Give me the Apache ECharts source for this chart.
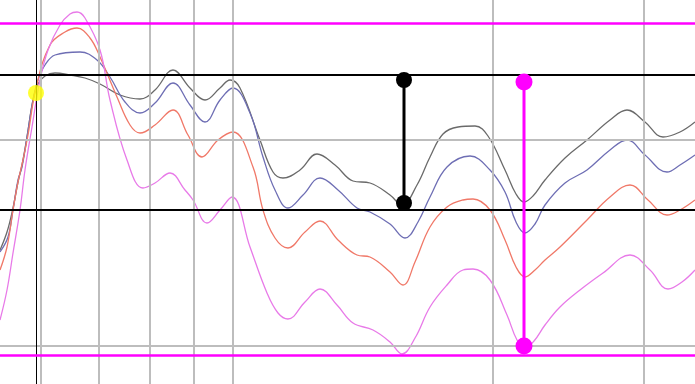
<!DOCTYPE html>
<html>
<head>
<meta charset="utf-8">
<script src="https://cdn.jsdelivr.net/npm/echarts@6/dist/echarts.min.js"></script>
<style>html,body{margin:0;padding:0;background:#fff}#c{width:695px;height:384px}</style>
</head>
<body>
<div id="c"></div>
<script>
// Curves: [x, y] (y grows downward)
const grayCurve = [[0,250],[7,232],[13,208],[18,182],[22,165],[27,137],[33,100],[38,84],[45,76],[55,73],[70,75],[85,78],[100,84],[120,95],[140,99],[155,90],[173,70],[190,88],[205,100],[220,88],[230,80],[240,88],[260,140],[273,172],[283,178],[300,170],[317,154],[335,165],[353,181],[370,183],[390,195],[402,205],[417,185],[430,157],[443,134],[458,127],[475,126],[488,136],[505,170],[516,194],[524,202],[533,196],[545,180],[565,158],[587,140],[610,120],[627,110],[645,122],[663,137],[680,132],[695,122]];
const blueCurve = [[0,252],[8,237],[13,210],[18,180],[22,167],[27,137],[33,100],[38,80],[45,65],[55,55],[80,52],[97,60],[110,77],[125,102],[140,113],[155,103],[173,83],[190,105],[205,122],[220,100],[233,88],[250,113],[263,157],[275,190],[288,208],[303,195],[320,178],[338,190],[357,208],[370,212],[390,224],[405,238],[418,222],[430,197],[447,167],[470,156],[490,170],[505,192],[516,222],[525,233],[535,224],[545,205],[565,183],[587,170],[610,150],[627,140],[645,155],[667,172],[680,165],[695,155]];
const redCurve = [[0,270],[7,247],[13,210],[18,182],[23,160],[28,135],[36,88],[50,45],[65,32],[77,28],[90,38],[100,57],[117,97],[130,125],[140,133],[155,125],[173,110],[188,135],[202,157],[218,140],[233,132],[253,167],[263,210],[275,238],[288,248],[305,232],[320,221],[338,240],[357,255],[370,257],[390,272],[403,285],[415,262],[430,227],[447,207],[463,200],[473,199],[490,210],[505,240],[516,267],[525,277],[535,270],[545,260],[560,247],[587,220],[610,197],[630,185],[648,200],[667,215],[680,210],[695,200]];
const violetCurve = [[0,320],[7,290],[13,253],[20,210],[25,170],[32,127],[40,80],[48,50],[60,25],[70,14],[77,12],[85,18],[100,50],[110,100],[127,160],[143,188],[155,183],[170,173],[185,190],[193,200],[207,223],[220,210],[232,197],[250,247],[267,293],[278,313],[288,319],[305,302],[320,289],[337,305],[353,323],[373,330],[390,342],[402,354],[415,338],[430,307],[447,285],[463,270],[473,269],[490,280],[507,315],[517,340],[525,348],[534,341],[545,325],[560,307],[580,290],[603,273],[630,255],[650,270],[668,289],[682,282],[695,270]];

// Reference lines and markers
const gridX = [41, 99, 150, 194, 233, 493, 644];
const gridY = [140, 346];
const cursorX = 36;
const blackLevels = [75, 210];
const violetLevels = [23.5, 355.5];
const yellowPoint = [36, 93];
const blackSpan = [[404, 80], [404, 203]];
const violetSpan = [[524, 82], [524, 346]];

const chart = echarts.init(document.getElementById('c'));
const curve = (name, data, color) => ({
  name, type: 'line', data, smooth: 0.4, showSymbol: false, z: 3,
  lineStyle: { color, width: 1.3 }
});
chart.setOption({
  animation: false,
  grid: { left: 0, right: 0, top: 0, bottom: 0 },
  xAxis: { type: 'value', min: 0, max: 695, show: false },
  yAxis: { type: 'value', min: 0, max: 384, inverse: true, show: false },
  series: [
    { type: 'line', data: [], z: 1, silent: true,
      markLine: { symbol: 'none', silent: true, label: { show: false },
        lineStyle: { color: '#bdbdbd', width: 2, type: 'solid' },
        data: gridX.map(v => ({ xAxis: v })).concat(gridY.map(v => ({ yAxis: v }))) } },
    { type: 'line', data: [], z: 2, silent: true,
      markLine: { symbol: 'none', silent: true, label: { show: false },
        lineStyle: { color: '#000', width: 1, type: 'solid' },
        data: [{ xAxis: cursorX }] } },
    curve('gray', grayCurve, '#6a6a6a'),
    curve('blue', blueCurve, '#6e6eb4'),
    curve('red', redCurve, '#f07868'),
    curve('violet', violetCurve, '#e87ae8'),
    { type: 'line', data: [], z: 4, silent: true,
      markLine: { symbol: 'none', silent: true, label: { show: false },
        lineStyle: { color: '#000', width: 2, type: 'solid' },
        data: blackLevels.map(v => ({ yAxis: v })) } },
    { type: 'line', data: [], z: 4, silent: true,
      markLine: { symbol: 'none', silent: true, label: { show: false },
        lineStyle: { color: '#ff00ff', width: 2.5, type: 'solid' },
        data: violetLevels.map(v => ({ yAxis: v })) } },
    { type: 'line', data: blackSpan, z: 5, symbol: 'circle', symbolSize: 16, showSymbol: true,
      lineStyle: { color: '#000', width: 3 }, itemStyle: { color: '#000' } },
    { type: 'line', data: violetSpan, z: 5, symbol: 'circle', symbolSize: 17, showSymbol: true,
      lineStyle: { color: '#ff00ff', width: 3 }, itemStyle: { color: '#ff00ff' } },
    { type: 'scatter', data: [yellowPoint], z: 5, symbolSize: 16, itemStyle: { color: '#ffff00' } }
  ]
});
</script>
</body>
</html>
